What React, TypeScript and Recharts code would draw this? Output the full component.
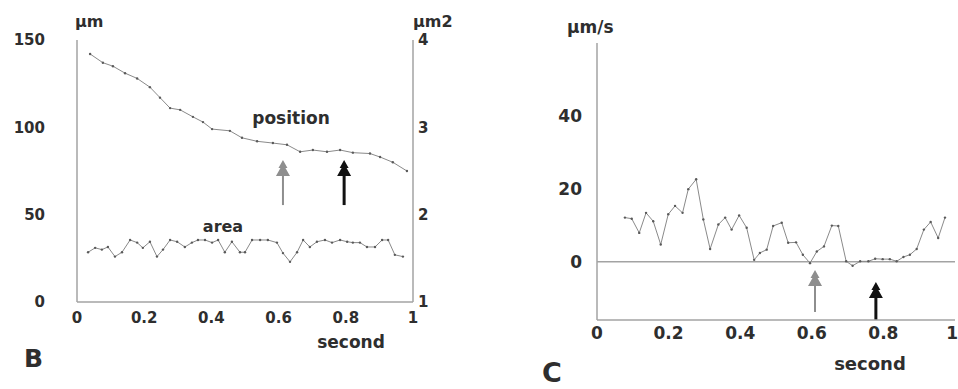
import React from 'react';
import { LineChart, Line, XAxis, YAxis, ReferenceLine } from 'recharts';

// ---------- shared ----------
const timeTicks = [0, 0.2, 0.4, 0.6, 0.8, 1];

// ---------- panel B ----------
const positionTicks = [0, 50, 100, 150];
const areaTicks = [1, 2, 3, 4];

const positionTime = [
  0.039, 0.077, 0.107, 0.143, 0.179, 0.217, 0.247, 0.277, 0.307, 0.345, 0.375, 0.402, 0.455,
  0.491, 0.536, 0.583, 0.625, 0.664, 0.702, 0.744, 0.783, 0.821, 0.872, 0.902, 0.94, 0.982,
];
const positionValues = [
  142, 137, 135, 131, 128, 123, 117, 111, 110, 106, 103, 99, 98,
  94, 92, 91, 90, 86, 87, 86, 87, 85.5, 85, 83, 80, 75,
];

const areaTime = [
  0.033, 0.054, 0.074, 0.092, 0.113, 0.134, 0.158, 0.179, 0.196, 0.217, 0.238, 0.256, 0.277,
  0.298, 0.321, 0.342, 0.36, 0.381, 0.402, 0.42, 0.44, 0.461, 0.485, 0.5, 0.521, 0.545, 0.568,
  0.595, 0.613, 0.634, 0.655, 0.673, 0.693, 0.714, 0.738, 0.759, 0.783, 0.804, 0.821, 0.842,
  0.863, 0.887, 0.908, 0.926, 0.946, 0.97,
];
const areaValues = [
  1.57, 1.62, 1.6, 1.63, 1.52, 1.57, 1.71, 1.68, 1.62, 1.69, 1.52, 1.6, 1.71,
  1.69, 1.63, 1.68, 1.71, 1.71, 1.68, 1.71, 1.57, 1.69, 1.57, 1.57, 1.71, 1.71, 1.71,
  1.68, 1.56, 1.46, 1.57, 1.71, 1.63, 1.69, 1.71, 1.68, 1.71, 1.69, 1.68, 1.68,
  1.63, 1.63, 1.71, 1.71, 1.54, 1.52,
];

const arrowBTimes = [0.613, 0.795];
const arrowBFrom = [55.5, 55.5];
const arrowBTo = [81.3, 81.3];

// ---------- panel C ----------
const velocityTicks = [0, 20, 40];
const velocityTime = [
  0.078, 0.097, 0.118, 0.137, 0.157, 0.178, 0.199, 0.218, 0.239, 0.255, 0.277, 0.297, 0.316,
  0.339, 0.358, 0.376, 0.397, 0.418, 0.439, 0.455, 0.474, 0.492, 0.516, 0.534, 0.556, 0.575,
  0.595, 0.614, 0.634, 0.656, 0.674, 0.696, 0.714, 0.735, 0.758, 0.777, 0.798, 0.818, 0.837,
  0.856, 0.874, 0.893, 0.913, 0.932, 0.953, 0.972,
];
const velocityValues = [
  12.1, 11.8, 7.9, 13.4, 11.1, 4.7, 13, 15.3, 13.4, 19.9, 22.6, 11.6, 3.5,
  10.2, 12.1, 8.8, 12.7, 9.3, 0.5, 2.4, 3.3, 9.8, 10.7, 5.2, 5.3, 1.9,
  -0.4, 2.8, 4.2, 9.9, 9.8, 0.1, -1.1, 0.1, 0.1, 0.8, 0.7, 0.7, 0.1,
  1.3, 1.9, 3.5, 8.8, 10.9, 6.5, 12.1,
];

const arrowCTimes = [0.609, 0.779];
const arrowCFrom = [-13.8, -16];
const arrowCTo = [-2.3, -5.6];

const arrowColors = ['#8e8e8e', '#111111'];
const arrowWidths = [2, 3];

// ---------- data tables ----------
const positionData = positionTime.map((t, i) => ({ t, v: positionValues[i] }));
const areaData = areaTime.map((t, i) => ({ t, a: areaValues[i] }));
const velocityData = velocityTime.map((t, i) => ({ t, s: velocityValues[i] }));

const FONT = 'DejaVu Sans';
const TEXT = '#2e2e2e';
const AXIS = '#a3a3a3';
const LINE = '#8a8a8a';

const makeArrow = (color: string, w: number) => (props: any) => {
  const { x1, y1, x2, y2 } = props;
  const top = Math.min(y1, y2);
  const bottom = Math.max(y1, y2);
  const x = (x1 + x2) / 2;
  const pts = [
    [x, top],
    [x - 4.5, top + 8],
    [x - 2.5, top + 8],
    [x - 7, top + 16],
    [x + 7, top + 16],
    [x + 2.5, top + 8],
    [x + 4.5, top + 8],
  ]
    .map((p) => p.join(','))
    .join(' ');
  return (
    <g>
      <line x1={x} y1={top + 12} x2={x} y2={bottom} stroke={color} strokeWidth={w} />
      <polygon points={pts} fill={color} />
    </g>
  );
};

const tickStyle = (size: number) => ({
  fontSize: size,
  fontWeight: 'bold',
  fill: TEXT,
  fontFamily: FONT,
});

const textStyle = (size: number): React.CSSProperties => ({
  fontSize: size,
  fontWeight: 'bold',
  fill: TEXT,
  fontFamily: FONT,
});

const dotStyle = { r: 1.2, fill: '#5a5a5a', stroke: 'none' };

// x tick for panel C: keeps the last label inside the picture
const CTimeTick = (props: any) => {
  const { x, y, payload, index, visibleTicksCount } = props;
  const last = index === (visibleTicksCount ?? timeTicks.length) - 1;
  return (
    <text
      x={last ? x + 3 : x}
      y={y}
      dy="0.71em"
      textAnchor={last ? 'end' : 'middle'}
      style={textStyle(17)}
    >
      {String(payload.value)}
    </text>
  );
};

export default function App() {
  return (
    <div
      style={{
        position: 'absolute',
        left: 0,
        top: 0,
        width: 958,
        height: 389,
        background: '#fff',
        overflow: 'hidden',
      }}
    >
      <div style={{ position: 'absolute', left: 0, top: 0 }}>
        <LineChart width={480} height={389} margin={{ top: 40, right: 17, bottom: 57, left: 27 }}>
          <XAxis
            type="number"
            dataKey="t"
            domain={[0, 1]}
            ticks={timeTicks}
            interval={0}
            height={30}
            tickLine={false}
            tickSize={0}
            tickMargin={10}
            axisLine={{ stroke: AXIS, strokeWidth: 1.5 }}
            tick={tickStyle(15)}
          />
          <YAxis
            yAxisId="pos"
            orientation="left"
            domain={[0, 150]}
            ticks={positionTicks}
            interval={0}
            width={50}
            tickLine={false}
            tickSize={0}
            tickMargin={32}
            axisLine={{ stroke: AXIS, strokeWidth: 1.5 }}
            tick={tickStyle(15)}
          />
          <YAxis
            yAxisId="area"
            orientation="right"
            domain={[1, 4]}
            ticks={areaTicks}
            interval={0}
            width={50}
            tickLine={false}
            tickSize={0}
            tickMargin={5}
            axisLine={{ stroke: AXIS, strokeWidth: 1.5 }}
            tick={tickStyle(15)}
          />
          <Line
            yAxisId="pos"
            data={positionData}
            dataKey="v"
            type="linear"
            stroke={LINE}
            strokeWidth={1}
            dot={dotStyle}
            isAnimationActive={false}
          />
          <Line
            yAxisId="area"
            data={areaData}
            dataKey="a"
            type="linear"
            stroke={LINE}
            strokeWidth={1}
            dot={dotStyle}
            isAnimationActive={false}
          />
          {arrowBTimes.map((t, i) => (
            <ReferenceLine
              key={'ab' + i}
              yAxisId="pos"
              segment={[
                { x: t, y: arrowBFrom[i] },
                { x: t, y: arrowBTo[i] },
              ]}
              shape={makeArrow(arrowColors[i], arrowWidths[i])}
            />
          ))}
          <text x={75} y={27} style={textStyle(16)}>µm</text>
          <text x={413} y={27} style={textStyle(16)}>µm2</text>
          <text x={291} y={124} textAnchor="middle" style={textStyle(17)}>position</text>
          <text x={223} y={232} textAnchor="middle" style={textStyle(16)}>area</text>
          <text x={351} y={348} textAnchor="middle" style={textStyle(17)}>second</text>
          <text x={24} y={367} style={textStyle(25)}>B</text>
        </LineChart>
      </div>
      <div style={{ position: 'absolute', left: 480, top: 0 }}>
        <LineChart
          width={478}
          height={389}
          data={velocityData}
          margin={{ top: 43, right: 3, bottom: 39, left: 67 }}
        >
          <XAxis
            type="number"
            dataKey="t"
            domain={[0, 1]}
            ticks={timeTicks}
            interval={0}
            height={30}
            tickLine={false}
            tickSize={0}
            tickMargin={7}
            axisLine={{ stroke: AXIS, strokeWidth: 1.5 }}
            tick={<CTimeTick />}
          />
          <YAxis
            domain={[-16, 60]}
            ticks={velocityTicks}
            interval={0}
            width={50}
            tickLine={false}
            tickSize={0}
            tickMargin={15}
            axisLine={{ stroke: AXIS, strokeWidth: 1.5 }}
            tick={tickStyle(17)}
          />
          <ReferenceLine y={0} stroke={AXIS} strokeWidth={1.5} />
          <Line
            dataKey="s"
            type="linear"
            stroke={LINE}
            strokeWidth={1}
            dot={dotStyle}
            isAnimationActive={false}
          />
          {arrowCTimes.map((t, i) => (
            <ReferenceLine
              key={'ac' + i}
              segment={[
                { x: t, y: arrowCFrom[i] },
                { x: t, y: arrowCTo[i] },
              ]}
              shape={makeArrow(arrowColors[i], arrowWidths[i])}
            />
          ))}
          <text x={87} y={33} style={textStyle(17)}>µm/s</text>
          <text x={390} y={370} textAnchor="middle" style={textStyle(18)}>second</text>
          <text x={62} y={382} style={textStyle(27)}>C</text>
        </LineChart>
      </div>
    </div>
  );
}
